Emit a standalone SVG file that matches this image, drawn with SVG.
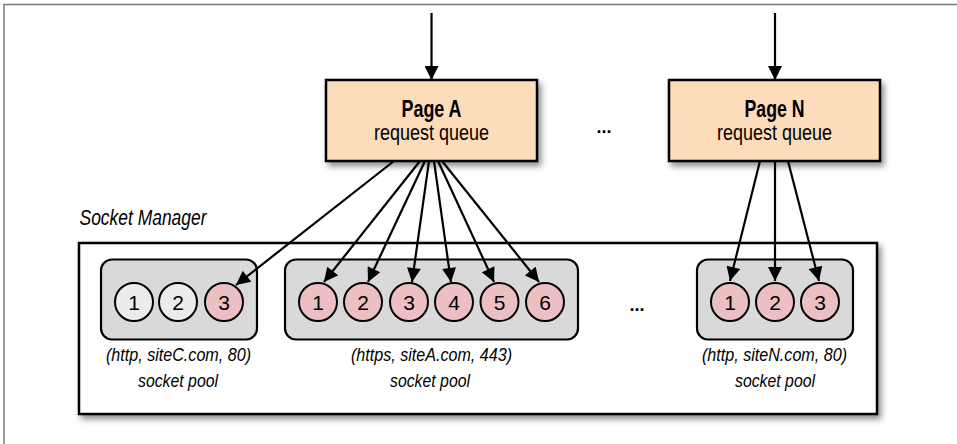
<svg xmlns="http://www.w3.org/2000/svg" width="957" height="444" viewBox="0 0 957 444">
<style>
.t{font-family:"Liberation Sans",Arial,sans-serif;fill:#000;text-anchor:middle}
.b{font-weight:bold}
.i{font-style:italic}
.box{fill:#fddcbb;stroke:#000;stroke-width:2.5}
.pool{fill:#d9d9d9;stroke:#000;stroke-width:2.2}
.pk{fill:#ecc0c3;stroke:#000;stroke-width:2}
.wh{fill:#ececec;stroke:#000;stroke-width:2}
.num{font-size:21px}
.lbl{font-size:19px}
.c line{stroke:#000;stroke-width:2.2;marker-end:url(#ah)}
</style>
<defs>
<marker id="ah" viewBox="0 0 10 10" refX="10" refY="5" markerUnits="userSpaceOnUse" markerWidth="15" markerHeight="14" orient="auto">
<path d="M0,0 L10,5 L0,10 z" fill="#000"/>
</marker>
<filter id="sh" x="-10%" y="-10%" width="130%" height="140%">
<feDropShadow dx="3" dy="4" stdDeviation="3" flood-color="#000" flood-opacity="0.45"/>
</filter>
</defs>
<rect x="0" y="0" width="957" height="444" fill="#fff"/>
<rect x="4" y="4.5" width="1000" height="500" fill="none" stroke="#7a7a7a" stroke-width="1.5"/>

<g id="socket-manager">
<text class="t i" x="143" y="225" font-size="22" textLength="127" lengthAdjust="spacingAndGlyphs">Socket Manager</text>
<rect x="79" y="243" width="798" height="171" fill="#fff" stroke="#000" stroke-width="2.5" filter="url(#sh)"/>
</g>

<g id="page-a">
<rect class="box" x="326" y="80" width="211" height="81" filter="url(#sh)"/>
<text class="t b" x="431.5" y="117" font-size="23" textLength="60" lengthAdjust="spacingAndGlyphs">Page A</text>
<text class="t" x="431.5" y="140" font-size="22" textLength="115" lengthAdjust="spacingAndGlyphs">request queue</text>
</g>

<g id="page-n">
<rect class="box" x="669" y="80" width="211" height="81" filter="url(#sh)"/>
<text class="t b" x="774.5" y="117" font-size="23" textLength="60" lengthAdjust="spacingAndGlyphs">Page N</text>
<text class="t" x="774.5" y="140" font-size="22" textLength="115" lengthAdjust="spacingAndGlyphs">request queue</text>
</g>

<g id="ellipsis-top"><text class="t b" x="604" y="133" font-size="18">...</text></g>
<g id="ellipsis-bottom"><text class="t b" x="637" y="311" font-size="18">...</text></g>

<g id="pool-sitec">
<rect class="pool" x="101" y="259.5" width="156" height="80" rx="11"/>
<circle class="wh" cx="134" cy="302" r="19"/><text class="t num" x="134" y="309.5">1</text>
<circle class="wh" cx="178" cy="302" r="19"/><text class="t num" x="178" y="309.5">2</text>
<circle class="pk" cx="224" cy="302" r="19"/><text class="t num" x="224" y="309.5">3</text>
<text class="t i lbl" x="178.5" y="361" textLength="145" lengthAdjust="spacingAndGlyphs">(http, siteC.com, 80)</text>
<text class="t i lbl" x="178" y="387" textLength="80" lengthAdjust="spacingAndGlyphs">socket pool</text>
</g>

<g id="pool-sitea">
<rect class="pool" x="285" y="259.5" width="293" height="80" rx="11"/>
<circle class="pk" cx="318" cy="302" r="19"/><text class="t num" x="318" y="309.5">1</text>
<circle class="pk" cx="363" cy="302" r="19"/><text class="t num" x="363" y="309.5">2</text>
<circle class="pk" cx="409" cy="302" r="19"/><text class="t num" x="409" y="309.5">3</text>
<circle class="pk" cx="454" cy="302" r="19"/><text class="t num" x="454" y="309.5">4</text>
<circle class="pk" cx="499.5" cy="302" r="19"/><text class="t num" x="499.5" y="309.5">5</text>
<circle class="pk" cx="545" cy="302" r="19"/><text class="t num" x="545" y="309.5">6</text>
<text class="t i lbl" x="431.5" y="361" textLength="161" lengthAdjust="spacingAndGlyphs">(https, siteA.com, 443)</text>
<text class="t i lbl" x="430" y="387" textLength="80" lengthAdjust="spacingAndGlyphs">socket pool</text>
</g>

<g id="pool-siten">
<rect class="pool" x="697" y="259.5" width="156" height="80" rx="11"/>
<circle class="pk" cx="730" cy="302" r="19"/><text class="t num" x="730" y="309.5">1</text>
<circle class="pk" cx="775" cy="302" r="19"/><text class="t num" x="775" y="309.5">2</text>
<circle class="pk" cx="820" cy="302" r="19"/><text class="t num" x="820" y="309.5">3</text>
<text class="t i lbl" x="774.5" y="361" textLength="145" lengthAdjust="spacingAndGlyphs">(http, siteN.com, 80)</text>
<text class="t i lbl" x="775" y="387" textLength="80" lengthAdjust="spacingAndGlyphs">socket pool</text>
</g>

<g id="connectors" class="c">
<line x1="431.5" y1="13" x2="431.5" y2="80"/>
<line x1="775" y1="13" x2="775" y2="80"/>
<line x1="394" y1="161" x2="236" y2="285"/>
<line x1="420" y1="161" x2="324" y2="282"/>
<line x1="425" y1="161" x2="368" y2="282"/>
<line x1="429" y1="161" x2="412" y2="282"/>
<line x1="434" y1="161" x2="451" y2="282"/>
<line x1="438" y1="161" x2="494" y2="282"/>
<line x1="442" y1="161" x2="539" y2="282"/>
<line x1="760" y1="161" x2="730" y2="281"/>
<line x1="775" y1="161" x2="775" y2="281"/>
<line x1="788" y1="161" x2="819" y2="281"/>
</g>
</svg>
